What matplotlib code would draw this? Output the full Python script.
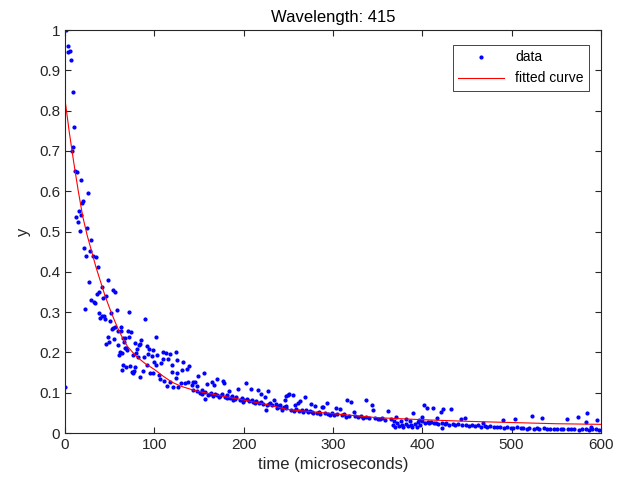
import numpy as np
import matplotlib
matplotlib.use("Agg")
import matplotlib.pyplot as plt

plt.rcParams['font.family'] = ['Liberation Sans', 'DejaVu Sans']

# measured points, early part (0-150 us)
t_early = [0.5, 1, 3, 4, 5.6, 6.7, 7.5, 8.6, 9.3, 10.5, 11.2, 13.1, 12.5, 14.2, 15.7, 16.4,
           17.5, 18.3, 19.4, 20.5, 21.3, 22.4, 23.5, 24.3, 25.7, 26.5, 27.6, 28.7, 29.1, 31.7,
           32.2, 33.6, 34.3, 35.5, 36.5, 37.7, 38.4, 39.2, 41.1, 41.4, 42.2, 43.7, 44.4, 45.5,
           46.2, 47.8, 48.5, 49.6, 50.4, 51.2, 52.2, 53.3, 54.1, 54.6, 56.0, 56.3, 58.5, 58.9,
           59.3, 60.1, 61.6, 62.3, 62.7, 63.4, 63.8, 64.6, 65.3, 66.4, 66.8, 67.5, 68.3, 68.6,
           69.7, 70.2, 71.6, 72.0, 72.8, 73.5, 74.6, 75.8, 76.5, 77.2, 78.4, 78.7, 79.5, 80.9,
           81.4, 82.8, 83.6, 84.0, 85.1, 87.0, 88.4, 89.6, 91.4, 91.9, 92.9, 94.4, 94.9, 97.0,
           98.1, 98.8, 99.3, 101.5, 101.9, 102.6, 105.6, 106.3, 107.8, 109.4, 110.0, 110.8,
           112.7, 113.8, 115.7, 117.2, 117.5, 119.4, 119.8, 121.2, 124.3, 124.8, 125.0, 125.7,
           126.8, 129.9, 131.0, 132.4, 134.3, 136.2, 138.0, 139.1, 141.8, 142.9, 143.0, 145.5,
           147.4, 148.1, 149.2]
y_early = [0.114, 1.0, 0.945, 0.961, 0.949, 0.926, 0.700, 0.845, 0.710, 0.759, 0.650, 0.648,
           0.535, 0.523, 0.552, 0.502, 0.628, 0.541, 0.571, 0.576, 0.458, 0.307, 0.438, 0.509,
           0.595, 0.375, 0.452, 0.479, 0.330, 0.440, 0.326, 0.322, 0.436, 0.344, 0.413, 0.349,
           0.299, 0.285, 0.291, 0.363, 0.334, 0.291, 0.282, 0.221, 0.341, 0.237, 0.379, 0.227,
           0.278, 0.299, 0.258, 0.355, 0.260, 0.233, 0.264, 0.349, 0.305, 0.253, 0.218, 0.194,
           0.202, 0.264, 0.254, 0.156, 0.199, 0.235, 0.169, 0.227, 0.236, 0.212, 0.163, 0.210,
           0.206, 0.252, 0.300, 0.237, 0.167, 0.251, 0.152, 0.194, 0.150, 0.155, 0.163, 0.224,
           0.198, 0.209, 0.189, 0.218, 0.220, 0.140, 0.231, 0.154, 0.189, 0.282, 0.217, 0.169,
           0.195, 0.209, 0.148, 0.190, 0.150, 0.206, 0.177, 0.239, 0.168, 0.193, 0.144, 0.133,
           0.174, 0.183, 0.200, 0.129, 0.199, 0.117, 0.183, 0.196, 0.127, 0.152, 0.169, 0.113,
           0.201, 0.136, 0.148, 0.181, 0.113, 0.123, 0.156, 0.177, 0.123, 0.160, 0.127, 0.167,
           0.119, 0.107, 0.127, 0.127, 0.117, 0.105, 0.141]

# measured points, middle part (150-360 us)
t_mid = [151, 153.0, 154, 155.6, 156.7, 157, 159.3, 160, 162.3, 163, 164.2, 166, 166.8, 167.9,
         169.8, 170, 172, 174, 175.4, 177.2, 178.3, 179, 181.0, 182, 183.9, 185, 187, 188.4,
         190, 192, 194.0, 196, 198, 199.6, 201, 202.6, 204, 206, 207.9, 209, 211, 212.7, 214,
         215.7, 217, 219.4, 220, 222, 223.9, 225.0, 225.8, 227.6, 228, 230, 232, 234.0, 236,
         237.0, 239, 240.7, 241, 242.6, 245, 246, 247, 248.0, 248, 250.0, 251, 253, 255.6,
         256, 257.5, 259, 261, 262, 263, 265, 267, 268.7, 270, 272, 274, 275.4, 277, 278,
         279.9, 282, 284, 286, 287.3, 289, 291, 293, 294, 296.6, 299, 301, 303.3, 305, 307.8,
         310, 312, 315.3, 315, 318, 320, 323.5, 325, 328, 331, 334, 336.6, 337, 340, 343.3,
         345.1, 347, 350, 352.6, 355, 358, 361.2]
y_mid = [0.100, 0.107, 0.096, 0.148, 0.084, 0.102, 0.122, 0.094, 0.098, 0.099, 0.127, 0.092,
         0.119, 0.097, 0.133, 0.095, 0.089, 0.093, 0.098, 0.130, 0.125, 0.090, 0.086, 0.094,
         0.104, 0.088, 0.091, 0.082, 0.085, 0.089, 0.108, 0.083, 0.087, 0.078, 0.081, 0.125,
         0.084, 0.079, 0.108, 0.083, 0.077, 0.074, 0.080, 0.107, 0.075, 0.098, 0.078, 0.073,
         0.090, 0.057, 0.069, 0.105, 0.071, 0.075, 0.069, 0.082, 0.072, 0.061, 0.066, 0.065,
         0.070, 0.057, 0.064, 0.082, 0.067, 0.061, 0.093, 0.094, 0.096, 0.058, 0.094, 0.055,
         0.069, 0.060, 0.075, 0.054, 0.079, 0.057, 0.052, 0.090, 0.056, 0.051, 0.054, 0.071,
         0.053, 0.049, 0.068, 0.050, 0.053, 0.048, 0.065, 0.065, 0.050, 0.074, 0.047, 0.045,
         0.049, 0.045, 0.063, 0.047, 0.059, 0.044, 0.046, 0.082, 0.040, 0.042, 0.076, 0.053,
         0.043, 0.040, 0.042, 0.036, 0.082, 0.039, 0.037, 0.069, 0.057, 0.038, 0.035, 0.034,
         0.036, 0.033, 0.055]

# measured points, late part (360-600 us)
t_late = [365, 367, 368, 369, 370.5, 372, 374, 376, 377, 379, 381.7, 382, 384, 386, 387, 389,
          389.2, 392, 394, 395, 396.6, 397, 399.3, 400, 402.2, 403, 404.9, 406, 408, 410,
          411.6, 413, 415, 416.8, 418, 420.9, 421.6, 422, 423.5, 425, 427, 430, 432.1, 434,
          437, 440, 443.3, 445, 447.8, 449, 452, 456, 459, 462, 466, 468.2, 470, 473, 476,
          480, 484, 487, 490.6, 492, 495, 499, 502, 503.7, 506, 510, 513, 517, 520, 522.4,
          525, 528, 531, 533.6, 536, 540, 543, 547, 551, 555, 558, 561.6, 563, 567, 570, 574.6,
          575, 579, 583, 583.2, 584.6, 587, 588.8, 590, 594, 595.2, 598]
y_late = [0.034, 0.020, 0.031, 0.016, 0.039, 0.024, 0.017, 0.029, 0.021, 0.015, 0.035, 0.023,
          0.017, 0.030, 0.020, 0.015, 0.050, 0.022, 0.016, 0.028, 0.032, 0.019, 0.040, 0.029,
          0.069, 0.026, 0.061, 0.028, 0.025, 0.027, 0.063, 0.024, 0.026, 0.036, 0.023, 0.053,
          0.013, 0.025, 0.059, 0.022, 0.024, 0.021, 0.059, 0.023, 0.020, 0.022, 0.034, 0.019,
          0.038, 0.021, 0.018, 0.020, 0.017, 0.019, 0.016, 0.026, 0.018, 0.015, 0.017, 0.016,
          0.014, 0.016, 0.032, 0.013, 0.015, 0.013, 0.012, 0.035, 0.014, 0.012, 0.013, 0.011,
          0.013, 0.042, 0.011, 0.012, 0.010, 0.036, 0.012, 0.010, 0.011, 0.009, 0.011, 0.010,
          0.009, 0.034, 0.010, 0.009, 0.010, 0.040, 0.008, 0.010, 0.009, 0.028, 0.050, 0.008,
          0.016, 0.010, 0.009, 0.032, 0.008]

# fitted curve
fit_t = [0, 5, 10, 15, 20, 25, 30, 35, 40, 45, 50, 55, 60, 65, 70, 80, 90, 100, 110, 120,
         130, 140, 150, 175, 200, 225, 250, 300, 350, 400, 450, 500, 550, 600]
fit_y = [0.829, 0.745, 0.670, 0.600, 0.537, 0.490, 0.450, 0.410, 0.375, 0.340, 0.310, 0.282,
         0.256, 0.234, 0.215, 0.190, 0.172, 0.158, 0.141, 0.126, 0.116, 0.109, 0.103, 0.092,
         0.082, 0.071, 0.058, 0.048, 0.038, 0.033, 0.029, 0.026, 0.023, 0.0215]

t_data = t_early + t_mid + t_late
y_data = y_early + y_mid + y_late

fig = plt.figure(figsize=(6.24, 4.88), dpi=100)
ax = fig.add_axes([0.104, 0.1127, 0.859, 0.8258])

ax.plot(t_data, y_data, '.', color='b', markersize=4, label='data')
ax.plot(fit_t, fit_y, '-', color='r', linewidth=0.8, label='fitted curve')

ax.set_xlim(0, 600)
ax.set_ylim(0, 1)
ax.set_xticks(np.arange(0, 601, 100))
ax.set_yticks(np.arange(0, 1.01, 0.1))
ax.set_yticklabels(['0', '0.1', '0.2', '0.3', '0.4', '0.5', '0.6', '0.7', '0.8', '0.9', '1'])

dark = '#262626'
for s in ax.spines.values():
    s.set_color(dark)
    s.set_linewidth(0.8)
ax.tick_params(direction='in', top=True, right=True, length=4, width=0.8,
               colors=dark, labelsize=11)

ax.set_xlabel('time (microseconds)', fontsize=12, color=dark)
ax.set_ylabel('y', fontsize=12, color=dark, labelpad=6)
ax.set_title('Wavelength: 415', fontsize=12, color='black', pad=6)

leg = ax.legend(loc='upper right', bbox_to_anchor=(0.978, 0.963), borderaxespad=0,
                fancybox=False, framealpha=1, edgecolor=dark, fontsize=10,
                handlelength=3.3, numpoints=1)
leg.get_frame().set_linewidth(0.6)

fig.savefig('out.png', dpi=100)
